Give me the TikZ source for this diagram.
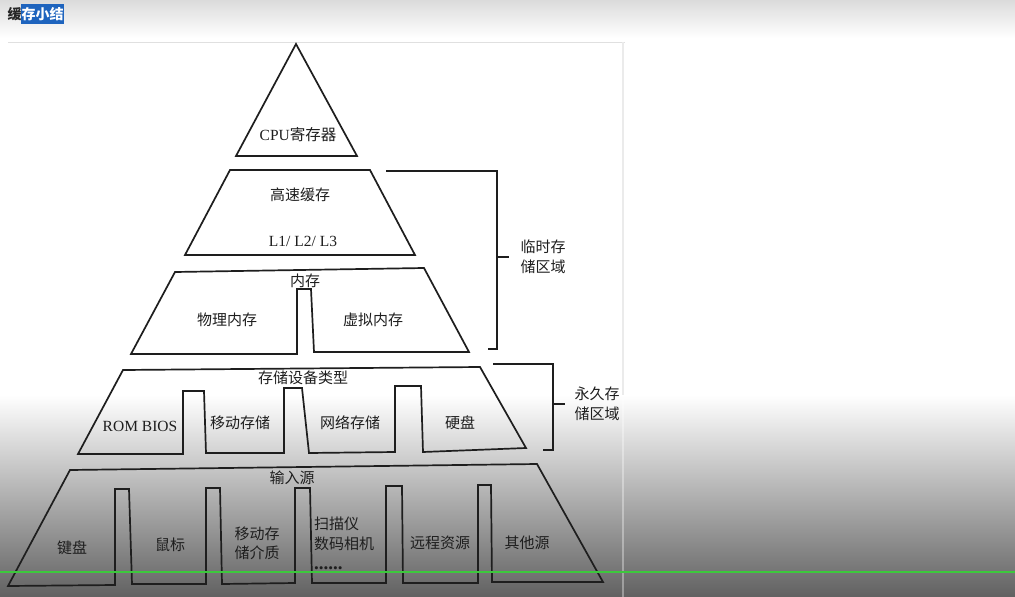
\documentclass[tikz,border=0pt]{standalone}
\usepackage{fontspec}
\setmainfont{Liberation Serif}
\newfontfamily\cjk{Noto Sans CJK SC}
\definecolor{hlblue}{RGB}{30,100,190}
\definecolor{scrgreen}{RGB}{60,200,60}
\definecolor{inkc}{RGB}{30,30,30}
\tikzset{
  shapeline/.style={draw=inkc, line width=1.7pt, line join=miter},
  bracketline/.style={draw=inkc, line width=1.7pt},
  lbl/.style={inner sep=0pt, text=inkc, font=\fontsize{15.5}{20}\selectfont},
  zh/.style={lbl, font=\fontsize{15}{20}\selectfont\cjk},
}
\begin{document}
\begin{tikzpicture}[x=1pt,y=-1pt]
\useasboundingbox (0,0) rectangle (1015,597);
% screen background
\fill[white] (0,0) rectangle (1015,597);
\shade[top color=black!14, bottom color=white] (0,0) rectangle (1015,38);
\shade[top color=white, bottom color=black!62] (0,395) rectangle (1015,597);
\draw[black!12, line width=0.8pt] (8,42) -- (625,42);
\draw[black!8, line width=1.2pt] (623,42) -- (623,395);
\draw[white, opacity=0.35, line width=1.2pt] (623,395) -- (623,597);
% title
\fill[hlblue] (21,4) rectangle (64,24);
\node[inner sep=0pt, font=\fontsize{14}{16}\selectfont\cjk\bfseries, text=black!85] (t1) at (14.5,14) {缓};
\node[inner sep=0pt, font=\fontsize{14}{16}\selectfont\cjk\bfseries, text=white, anchor=west] (t2) at (21.5,14) {存小结};
% level 1: CPU registers
\draw[shapeline] (296,44) -- (357,156) -- (236,156) -- cycle;
\node[lbl] (cpu) at (298,135) {CPU{\cjk 寄存器}};
% level 2: cache
\draw[shapeline] (230,170) -- (370,170) -- (415,255) -- (185,255) -- cycle;
\node[zh] (cache) at (300,195) {高速缓存};
\node[lbl] (l123) at (303,241) {L1/ L2/ L3};
% level 3: memory
\draw[shapeline] (131,354) -- (175,272) -- (424,268) -- (469,352) -- (314,352)
  -- (311,289) -- (297,289) -- (297,354) -- cycle;
\node[zh] (mem) at (305,281) {内存};
\node[zh] (phys) at (227,320) {物理内存};
\node[zh] (virt) at (373,320) {虚拟内存};
% level 4: storage device types
\draw[shapeline] (78,454) -- (123,370) -- (480,367) -- (526,448) -- (423,452)
  -- (421,386) -- (395,386) -- (395,452) -- (309,453) -- (302,388) -- (284,388)
  -- (284,453) -- (206,453) -- (204,391) -- (183,391) -- (183,454) -- cycle;
\node[zh] (stype) at (303,378) {存储设备类型};
\node[lbl] (rom) at (140,426) {ROM BIOS};
\node[zh] (mobile) at (240,423) {移动存储};
\node[zh] (net) at (350,423) {网络存储};
\node[zh] (disk) at (460,423) {硬盘};
% level 5: input sources
\draw[shapeline] (8,586) -- (70,470) -- (537,464) -- (603,582) -- (492,582)
  -- (491,485) -- (478,485) -- (478,583) -- (403,583) -- (402,486) -- (386,486)
  -- (386,583) -- (312,583) -- (310,488) -- (295,488) -- (295,583) -- (222,584)
  -- (220,488) -- (206,488) -- (206,584) -- (132,584) -- (129,489) -- (115,489)
  -- (115,585) -- cycle;
\node[zh] (insrc) at (292,478) {输入源};
\node[zh] (kbd) at (72,548) {键盘};
\node[zh] (mouse) at (170,545) {鼠标};
\node[zh, align=center, font=\fontsize{15}{19}\selectfont\cjk] (media) at (257,543) {移动存\\储介质};
\node[zh, align=left, anchor=west] (scan) at (314,543) {扫描仪\\数码相机\\{\rmfamily\bfseries\fontsize{19}{20}\selectfont ......}};
\node[zh] (remote) at (440,543) {远程资源};
\node[zh] (other) at (527,543) {其他源};
% brackets
\draw[bracketline] (386,171) -- (497,171) -- (497,349) -- (488,349);
\coordinate (tk1) at (497,257);
\coordinate (tk1e) at (509,257);
\draw[bracketline] (tk1) -- (tk1e);
\node[zh, align=center] (temp) at (543,257) {临时存\\储区域};
\draw[bracketline] (493,364) -- (553,364) -- (553,450) -- (543,450);
\coordinate (tk2) at (553,404);
\coordinate (tk2e) at (565,404);
\draw[bracketline] (tk2) -- (tk2e);
\node[zh, align=center] (perm) at (597,404) {永久存\\储区域};
% screen overlay line
\draw[scrgreen, line width=2pt] (0,572) -- (1015,572);
\end{tikzpicture}
\end{document}
